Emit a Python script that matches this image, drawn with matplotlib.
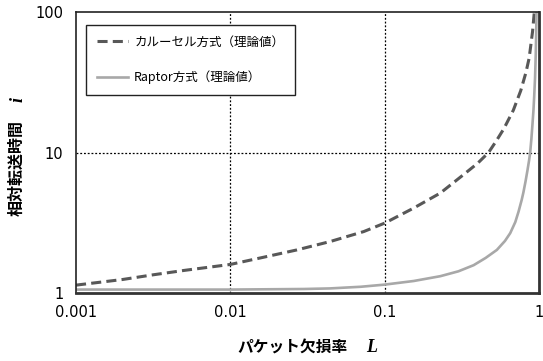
import matplotlib
matplotlib.use("Agg")
import matplotlib.pyplot as plt

plt.rcParams['font.family'] = ['DejaVu Sans', 'Noto Sans CJK JP']

# carousel (theoretical)
carousel_L = [0.001, 0.002, 0.00316, 0.005, 0.01, 0.0164, 0.027, 0.0444, 0.073, 0.1,
              0.154, 0.229, 0.324, 0.40, 0.47, 0.53, 0.591, 0.68, 0.759, 0.82,
              0.861, 0.905, 0.93]
carousel_i = [1.14, 1.25, 1.35, 1.45, 1.6, 1.8, 2.03, 2.33, 2.74, 3.15,
              4.03, 5.15, 6.97, 8.4, 10.0, 12.2, 14.8, 20.0, 27.5, 37.0,
              47.0, 72.0, 100.0]

# Raptor (theoretical)
raptor_L = [0.001, 0.01, 0.03, 0.044, 0.07, 0.1, 0.154, 0.229, 0.3, 0.376,
            0.45, 0.532, 0.6, 0.649, 0.70, 0.735, 0.77, 0.79, 0.815, 0.84,
            0.86, 0.874, 0.89, 0.905, 0.918, 0.928, 0.94, 0.95, 0.956, 0.961]
raptor_i = [1.06, 1.06, 1.07, 1.08, 1.11, 1.15, 1.22, 1.32, 1.43, 1.58,
            1.78, 2.03, 2.35, 2.67, 3.2, 3.8, 4.6, 5.2, 6.2, 7.5,
            8.8, 10.0, 12.5, 16.0, 20.0, 25.0, 34.0, 50.0, 70.0, 100.0]

x_ticks = [0.001, 0.01, 0.1, 1]
x_ticklabels = ["0.001", "0.01", "0.1", "1"]
y_ticks = [1, 10, 100]
y_ticklabels = ["1", "10", "100"]

fig = plt.figure(figsize=(5.43, 3.61), dpi=100)
ax = fig.add_axes([0.140, 0.188, 0.853, 0.779])

ax.plot(carousel_L, carousel_i, color='#585858', lw=2.2, dashes=(3.3, 1.7),
        label='カルーセル方式（理論値）')
ax.plot(raptor_L, raptor_i, color='#a8a8a8', lw=1.9, label='Raptor方式（理論値）')

ax.set_xscale('log')
ax.set_yscale('log')
ax.set_xlim(0.001, 1)
ax.set_ylim(1, 100)
ax.set_xticks(x_ticks)
ax.set_xticklabels(x_ticklabels)
ax.set_yticks(y_ticks)
ax.set_yticklabels(y_ticklabels)
ax.minorticks_off()
ax.tick_params(length=0, labelsize=10.5)
ax.tick_params(axis='x', pad=8.5)
ax.tick_params(axis='y', pad=9)

for v in [0.01, 0.1]:
    ax.axvline(v, color='black', lw=0.9, ls=(0, (1.5, 1.5)), zorder=0)
ax.axhline(10, color='black', lw=0.9, ls=(0, (1.5, 1.5)), zorder=0)

for side in ['left', 'top']:
    ax.spines[side].set_linewidth(1.2)
    ax.spines[side].set_color('#222222')
for side in ['right', 'bottom']:
    ax.spines[side].set_linewidth(2.0)
    ax.spines[side].set_color('#333333')

# axis titles: Japanese part + bold italic serif variable
cjk = ['Noto Sans CJK JP', 'DejaVu Sans']
serif = ['Liberation Serif', 'DejaVu Serif']
fig.text(237 / 543, 1 - 348 / 361, 'パケット欠損率', family=cjk, fontsize=11.3,
         fontweight='bold', ha='left', va='center')
fig.text(366 / 543, 1 - 348 / 361, 'L', family=serif, fontsize=13,
         fontweight='bold', style='italic', ha='left', va='center')
fig.text(17 / 543, 1 - 168 / 361, '相対転送時間', family=cjk, fontsize=11.5,
         fontweight='bold', ha='center', va='center', rotation=90)
fig.text(18 / 543, 1 - 100 / 361, 'i', family=serif, fontsize=13,
         fontweight='bold', style='italic', ha='center', va='center', rotation=90)

leg = ax.legend(loc='upper left', bbox_to_anchor=(0.0216, 0.954), borderaxespad=0,
                fancybox=False, edgecolor='#222222', framealpha=1,
                handlelength=2.5, handletextpad=0.5, borderpad=0.85, labelspacing=1.75,
                prop={'family': ['Noto Sans CJK JP', 'DejaVu Sans'], 'size': 9})
leg.get_frame().set_linewidth(1.0)

fig.savefig('out.png', dpi=100)
